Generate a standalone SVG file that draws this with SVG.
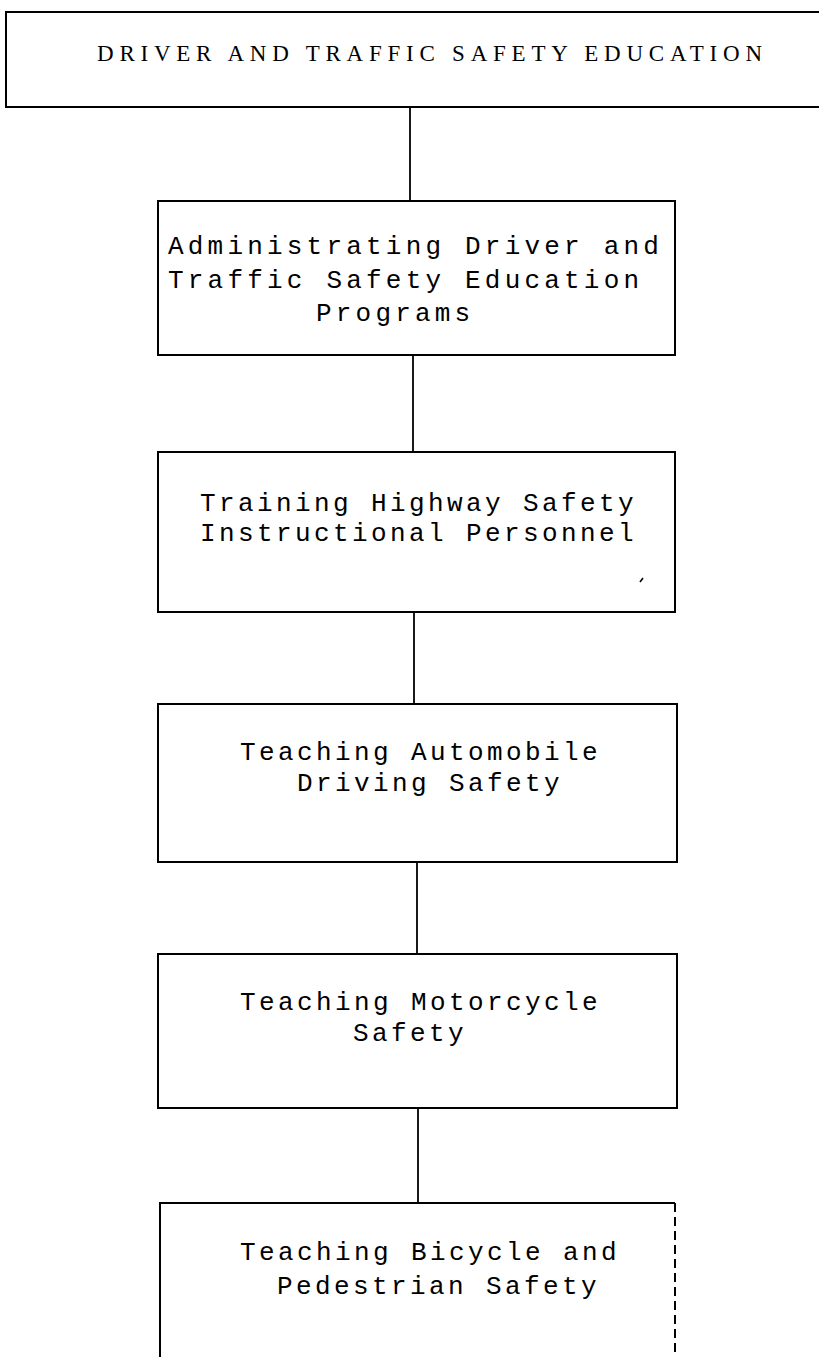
<svg xmlns="http://www.w3.org/2000/svg" width="819" height="1357" viewBox="0 0 819 1357">
<style>
.box{fill:#fff;stroke:#000;stroke-width:2}
.edge{stroke:#000;stroke-width:1.8;fill:none}
.t{font-family:"Liberation Mono","Courier New",monospace;font-size:26px;fill:#000;letter-spacing:3.4px}
.w{letter-spacing:4.2px}
.h{font-family:"Liberation Serif","Times New Roman",serif;font-size:23px;fill:#000}
.dash{stroke:#000;stroke-width:2;fill:none;stroke-dasharray:9 5}
</style>
<rect width="819" height="1357" fill="#fff"/>
<g id="connectors">
<line class="edge" x1="410" y1="107" x2="410" y2="201"/>
<line class="edge" x1="413" y1="355" x2="413" y2="452"/>
<line class="edge" x1="414" y1="612" x2="414" y2="704"/>
<line class="edge" x1="417" y1="862" x2="417" y2="954"/>
<line class="edge" x1="418" y1="1108" x2="418" y2="1203"/>
</g>
<g id="n0">
<path class="box" d="M822 12 H6 V107 H822"/>
<text class="h" x="97" y="61" textLength="665" lengthAdjust="spacing">DRIVER AND TRAFFIC SAFETY EDUCATION</text>
</g>
<g id="n1">
<rect class="box" x="158" y="201" width="517" height="154"/>
<text class="t w" x="168" y="254">Administrating Driver and</text>
<text class="t w" x="168" y="288">Traffic Safety Education</text>
<text class="t w" x="316" y="321">Programs</text>
</g>
<g id="n2">
<rect class="box" x="158" y="452" width="517" height="160"/>
<text class="t" x="200" y="511">Training Highway Safety</text>
<text class="t" x="200" y="541">Instructional Personnel</text>
<line x1="640" y1="582" x2="643" y2="578" stroke="#000" stroke-width="1.5"/>
</g>
<g id="n3">
<rect class="box" x="158" y="704" width="519" height="158"/>
<text class="t" x="240" y="760">Teaching Automobile</text>
<text class="t" x="297" y="791">Driving Safety</text>
</g>
<g id="n4">
<rect class="box" x="158" y="954" width="519" height="154"/>
<text class="t" x="240" y="1010">Teaching Motorcycle</text>
<text class="t" x="353" y="1041">Safety</text>
</g>
<g id="n5">
<path class="box" d="M160 1360 V1203 H675"/>
<line class="dash" x1="675" y1="1203" x2="675" y2="1360"/>
<text class="t" x="240" y="1260">Teaching Bicycle and</text>
<text class="t" x="277" y="1294">Pedestrian Safety</text>
</g>
</svg>
